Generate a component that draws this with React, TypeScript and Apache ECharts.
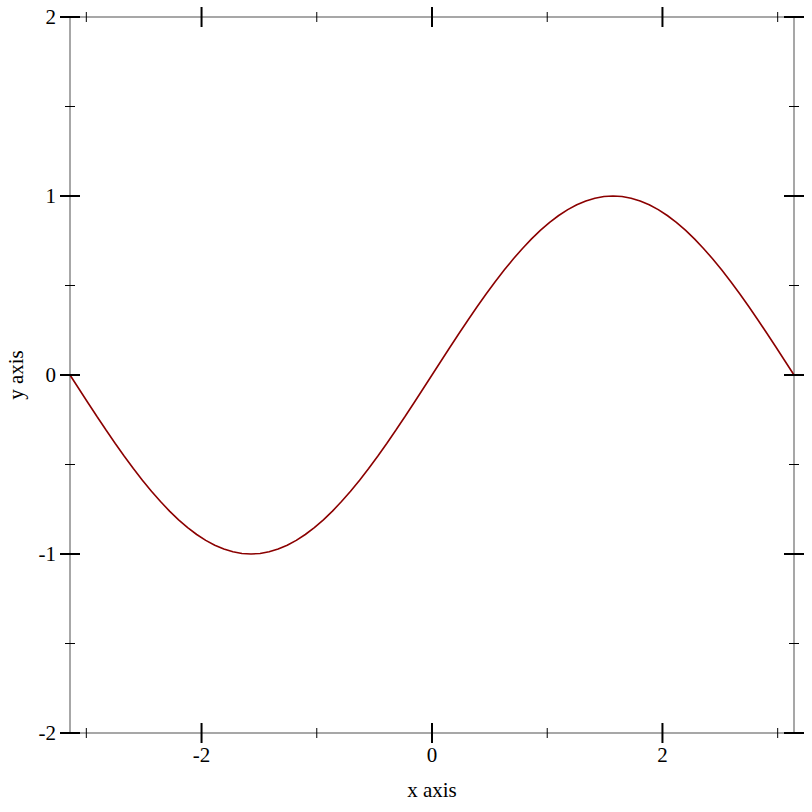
import React, { useEffect, useRef } from "react";
import * as echarts from "echarts";

const xValues = [
  -3.1416, -3.0631, -2.9845, -2.906, -2.8274, -2.7489, -2.6704, -2.5918, -2.5133, -2.4347,
  -2.3562, -2.2777, -2.1991, -2.1206, -2.042, -1.9635, -1.885, -1.8064, -1.7279, -1.6493,
  -1.5708, -1.4923, -1.4137, -1.3352, -1.2566, -1.1781, -1.0996, -1.021, -0.9425, -0.8639,
  -0.7854, -0.7069, -0.6283, -0.5498, -0.4712, -0.3927, -0.3142, -0.2356, -0.1571, -0.0785,
  0, 0.0785, 0.1571, 0.2356, 0.3142, 0.3927, 0.4712, 0.5498, 0.6283, 0.7069,
  0.7854, 0.8639, 0.9425, 1.021, 1.0996, 1.1781, 1.2566, 1.3352, 1.4137, 1.4923,
  1.5708, 1.6493, 1.7279, 1.8064, 1.885, 1.9635, 2.042, 2.1206, 2.1991, 2.2777,
  2.3562, 2.4347, 2.5133, 2.5918, 2.6704, 2.7489, 2.8274, 2.906, 2.9845, 3.0631, 3.1416,
];
const yValues = [
  0, -0.0785, -0.1564, -0.2334, -0.309, -0.3827, -0.454, -0.5225, -0.5878, -0.6494,
  -0.7071, -0.7604, -0.809, -0.8526, -0.891, -0.9239, -0.9511, -0.9724, -0.9877, -0.9969,
  -1, -0.9969, -0.9877, -0.9724, -0.9511, -0.9239, -0.891, -0.8526, -0.809, -0.7604,
  -0.7071, -0.6494, -0.5878, -0.5225, -0.454, -0.3827, -0.309, -0.2334, -0.1564, -0.0785,
  0, 0.0785, 0.1564, 0.2334, 0.309, 0.3827, 0.454, 0.5225, 0.5878, 0.6494,
  0.7071, 0.7604, 0.809, 0.8526, 0.891, 0.9239, 0.9511, 0.9724, 0.9877, 0.9969,
  1, 0.9969, 0.9877, 0.9724, 0.9511, 0.9239, 0.891, 0.8526, 0.809, 0.7604,
  0.7071, 0.6494, 0.5878, 0.5225, 0.454, 0.3827, 0.309, 0.2334, 0.1564, 0.0785, 0,
];

const X_MIN = -3.1416;
const X_MAX = 3.1416;
const Y_MIN = -2;
const Y_MAX = 2;

const xMajorTicks = [-2, 0, 2];
const xMinorTicks = [-3, -1, 1, 3];
const yMajorTicks = [-2, -1, 0, 1, 2];
const yMinorTicks = [-1.5, -0.5, 0.5, 1.5];

const xAxisTitle = "x axis";
const yAxisTitle = "y axis";

const FONT = "'Liberation Serif', 'DejaVu Serif', serif";

export default function App() {
  const ref = useRef<HTMLDivElement>(null);

  useEffect(() => {
    if (!ref.current) return;
    const chart = echarts.init(ref.current, null, { renderer: "svg" });

    const lineData = xValues.map((x, i) => [x, yValues[i]]);
    const tickData = [
      ...xMajorTicks.map((v) => [0, v, 1]),
      ...xMinorTicks.map((v) => [0, v, 0]),
      ...yMajorTicks.map((v) => [1, v, 1]),
      ...yMinorTicks.map((v) => [1, v, 0]),
    ];

    const labelStyle = { fontFamily: FONT, fontSize: 21, color: "#000" };
    const axisLine = { show: true, onZero: false, lineStyle: { color: "#8a8a8a", width: 1.5 } };

    chart.setOption({
      animation: false,
      backgroundColor: "#fff",
      grid: { left: 70, right: 18, top: 17, bottom: 79, containLabel: false, outerBoundsMode: "none" },
      xAxis: [
        {
          type: "value",
          position: "bottom",
          min: X_MIN,
          max: X_MAX,
          axisLine,
          axisTick: { show: false },
          splitLine: { show: false },
          axisLabel: { ...labelStyle, margin: 11, customValues: xMajorTicks, showMinLabel: true, showMaxLabel: true },
          name: xAxisTitle,
          nameLocation: "middle",
          nameGap: 46,
          nameTextStyle: labelStyle,
        },
        {
          type: "value",
          position: "top",
          min: X_MIN,
          max: X_MAX,
          axisLine,
          axisTick: { show: false },
          splitLine: { show: false },
          axisLabel: { show: false },
        },
      ],
      yAxis: [
        {
          type: "value",
          position: "left",
          min: Y_MIN,
          max: Y_MAX,
          axisLine,
          axisTick: { show: false },
          splitLine: { show: false },
          axisLabel: { ...labelStyle, margin: 14, customValues: yMajorTicks },
          name: yAxisTitle,
          nameLocation: "middle",
          nameGap: 44,
          nameRotate: 90,
          nameTextStyle: labelStyle,
        },
        {
          type: "value",
          position: "right",
          min: Y_MIN,
          max: Y_MAX,
          axisLine,
          axisTick: { show: false },
          splitLine: { show: false },
          axisLabel: { show: false },
        },
      ],
      series: [
        {
          type: "line",
          data: lineData,
          smooth: false,
          showSymbol: false,
          lineStyle: { color: "#8b0000", width: 1.6 },
          itemStyle: { color: "#8b0000" },
          z: 3,
        },
        {
          type: "custom",
          data: tickData,
          clip: false,
          silent: true,
          encode: { x: 1, y: 1 },
          renderItem: (params: any, api: any) => {
            const kind = api.value(0);
            const v = api.value(1);
            const major = api.value(2) === 1;
            const len = major ? 10 : 5;
            const style = { stroke: "#000", lineWidth: major ? 2 : 1 };
            if (kind === 0) {
              const b = api.coord([v, Y_MIN]);
              const t = api.coord([v, Y_MAX]);
              return {
                type: "group",
                children: [
                  { type: "line", shape: { x1: b[0], y1: b[1] - len, x2: b[0], y2: b[1] + len }, style },
                  { type: "line", shape: { x1: t[0], y1: t[1] - len, x2: t[0], y2: t[1] + len }, style },
                ],
              };
            }
            const l = api.coord([X_MIN, v]);
            const r = api.coord([X_MAX, v]);
            return {
              type: "group",
              children: [
                { type: "line", shape: { x1: l[0] - len, y1: l[1], x2: l[0] + len, y2: l[1] }, style },
                { type: "line", shape: { x1: r[0] - len, y1: r[1], x2: r[0] + len, y2: r[1] }, style },
              ],
            };
          },
          z: 4,
        },
      ],
    });

    return () => chart.dispose();
  }, []);

  return (
    <div
      ref={ref}
      style={{ position: "absolute", left: 0, top: 0, width: 812, height: 812, background: "#fff" }}
    />
  );
}
